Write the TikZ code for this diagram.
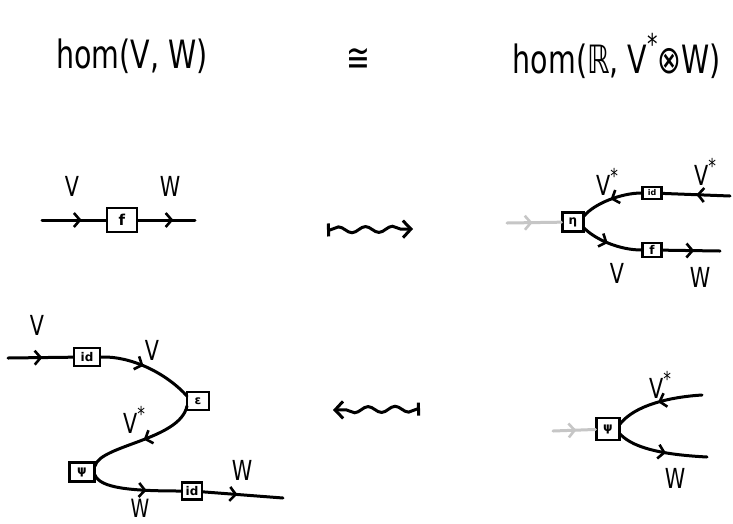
\documentclass[tikz,border=0pt]{standalone}
\usepackage{fontspec}
\setmainfont{DejaVu Sans}
\usetikzlibrary{arrows.meta,decorations.markings,decorations.pathmorphing}
\newcommand\dualstar{\raisebox{0.45em}{\fontsize{17}{17}\selectfont *}}
\newcommand\bigdualstar{\raisebox{0.5em}{\fontsize{22}{22}\selectfont *}}
\newcommand\tall[1]{\scalebox{0.95}[1.3]{#1}}
\newcommand\lt[1]{\scalebox{0.9}[1.2]{#1}}
\begin{document}
\begin{tikzpicture}[x=1pt,y=-1pt,
  wire/.style={line width=3pt, line cap=round},
  graywire/.style={wire, color=gray!45},
  gbox/.style={draw, line width=2.2pt, inner sep=0pt, fill=white, font=\fontsize{12}{12}\selectfont\bfseries},
  midarr/.style={postaction={decorate},decoration={markings,mark=at position #1 with {\arrow{Straight Barb[length=6pt,width=14pt,line width=2.6pt]}}}},
  lbl/.style={font=\fontsize{23}{23}\selectfont, inner sep=0pt},
  ttl/.style={font=\fontsize{30}{34}\selectfont, inner sep=0pt},
  squig/.style={line width=3pt, decorate, decoration={snake, amplitude=3pt, segment length=27pt, pre length=3pt, post length=8pt}}
]
\fill[white] (0,0) rectangle (733,523);
\useasboundingbox (0,0) rectangle (733,523);

% titles
\node[ttl] (t1) at (132,56) {\tall{hom(V, W)}};
\node[ttl] (t2) at (358,60) {\tall{≅}};
\node[ttl] (t3) at (617,56) {\tall{hom(ℝ, V\bigdualstar⊗W)}};

% diagram 1
\node[gbox,minimum width=30pt,minimum height=24pt,font=\fontsize{15}{15}\selectfont\bfseries] (f1) at (122,220) {f};
\coordinate (a1) at (42,220);
\coordinate (b1) at (195,220);
\draw[wire,midarr=0.62] (a1) -- (f1);
\draw[wire,midarr=0.62] (f1) -- (b1);
\node[lbl] (v1) at (72,186) {\lt{V}};
\node[lbl] (w1) at (170,186) {\lt{W}};

% squiggle arrows
\coordinate (s1a) at (327,230);
\coordinate (s1b) at (413,229);
\draw[squig, {Bar[width=13pt,line width=3pt]}-{Straight Barb[length=8pt,width=17pt,line width=3pt]}] (s1a) -- (s1b);
\coordinate (s2a) at (420,409);
\coordinate (s2b) at (333,410);
\draw[squig, {Bar[width=13pt,line width=3pt]}-{Straight Barb[length=8pt,width=17pt,line width=3pt]}] (s2a) -- (s2b);

% diagram 2
\node[gbox,minimum width=21pt,minimum height=19pt] (eta) at (573,222) {η};
\node[gbox,minimum width=19pt,minimum height=12pt,font=\fontsize{8}{8}\selectfont\bfseries] (id2) at (652,193) {id};
\node[gbox,minimum width=19pt,minimum height=14pt] (f2) at (652,250) {f};
\coordinate (g2) at (507,223);
\coordinate (eu) at (584,216);
\coordinate (el) at (584,228);
\coordinate (r2u) at (730,196);
\coordinate (r2l) at (720,251);
\draw[graywire,midarr=0.47] (g2) -- (eta);
\draw[wire,midarr=0.5] (r2u) -- (id2);
\draw[wire,midarr=0.5] (id2.west) .. controls (622,193) and (595,203) .. (eu);
\draw[wire,midarr=0.45] (el) .. controls (596,240) and (620,250) .. (f2.west);
\draw[wire,midarr=0.55] (f2) -- (r2l);
\node[lbl] (v2a) at (607,182) {\lt{V\dualstar}};
\node[lbl] (v2b) at (705,172) {\lt{V\dualstar}};
\node[lbl] (v2c) at (617,273) {\lt{V}};
\node[lbl] (w2) at (700,277) {\lt{W}};

% diagram 3
\node[gbox,minimum width=26pt,minimum height=18pt] (id3) at (87,357) {id};
\node[gbox,minimum width=22pt,minimum height=18pt] (eps) at (198,401) {ε};
\node[gbox,minimum width=25pt,minimum height=19pt] (psi3) at (82,472) {ψ};
\node[gbox,minimum width=20pt,minimum height=17pt] (id4) at (192,491) {id};
\coordinate (a3) at (8,358);
\coordinate (e3u) at (187,396);
\coordinate (e3l) at (187,406);
\coordinate (p3u) at (95,466);
\coordinate (p3l) at (95,475);
\coordinate (b3) at (283,498);
\draw[wire,midarr=0.53] (a3) -- (id3);
\draw[wire,midarr=0.45] (id3.east) .. controls (130,356) and (165,372) .. (e3u);
\draw[wire,midarr=0.5] (e3l) .. controls (180,440) and (100,445) .. (p3u);
\draw[wire,midarr=0.62] (p3l) .. controls (100,488) and (130,491) .. (id4.west);
\draw[wire,midarr=0.43] (id4) -- (b3);
\node[lbl] (v3a) at (37,325) {\lt{V}};
\node[lbl] (v3b) at (152,350) {\lt{V}};
\node[lbl] (v3c) at (134,420) {\lt{V\dualstar}};
\node[lbl] (w3a) at (242,470) {\lt{W}};
\node[lbl,font=\fontsize{21}{21}\selectfont] (w3b) at (140,508) {\lt{W}};

% diagram 4
\node[gbox,minimum width=23pt,minimum height=22pt] (psi4) at (608,429) {ψ};
\coordinate (g4) at (553,431);
\coordinate (p4u) at (620,424);
\coordinate (p4l) at (620,434);
\coordinate (r4u) at (702,395);
\coordinate (r4l) at (707,457);
\draw[graywire,midarr=0.55] (g4) -- (psi4);
\draw[wire,midarr=0.5] (r4u) .. controls (670,397) and (635,405) .. (p4u);
\draw[wire,midarr=0.55] (p4l) .. controls (635,450) and (670,455) .. (r4l);
\node[lbl] (v4) at (660,385) {\lt{V\dualstar}};
\node[lbl] (w4) at (675,478) {\lt{W}};
\end{tikzpicture}
\end{document}
